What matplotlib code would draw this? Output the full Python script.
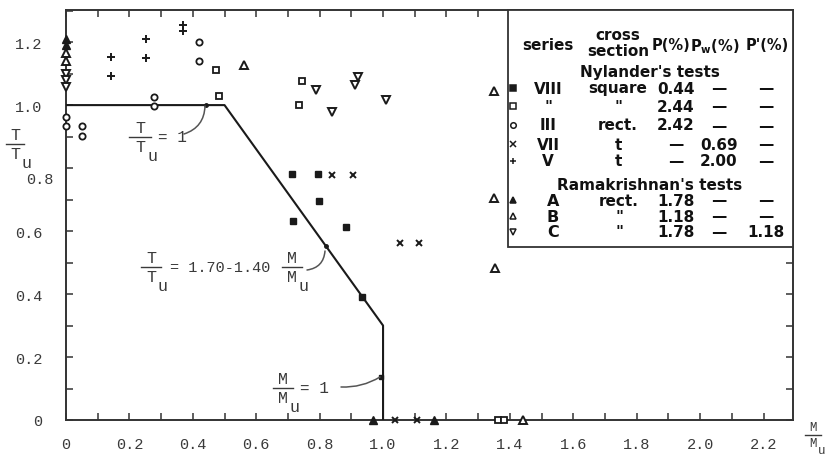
import matplotlib
matplotlib.use("Agg")
import matplotlib.pyplot as plt
from matplotlib.lines import Line2D
from matplotlib.patches import Rectangle, FancyArrowPatch
from matplotlib.ticker import FixedLocator, MultipleLocator
from matplotlib.transforms import ScaledTranslation

plt.rcParams['mathtext.fontset'] = 'custom'
plt.rcParams['mathtext.rm'] = 'Liberation Mono'
plt.rcParams['mathtext.it'] = 'Liberation Mono'
plt.rcParams['mathtext.bf'] = 'DejaVu Sans:bold'

# ---------------- data ----------------
# Nylander series VIII, square, P=0.44 (filled squares)
viii_x = [0.713, 0.795, 0.798, 0.716, 0.883, 0.934]
viii_y = [0.781, 0.781, 0.695, 0.632, 0.613, 0.390]
# Nylander square, P=2.44 (open squares)
sq244_x = [0.473, 0.483, 0.745, 0.735, 1.363, 1.380]
sq244_y = [1.111, 1.029, 1.076, 1.000, 0.0, 0.0]
# Nylander series III, rect. (open circles)
iii_x = [0.420, 0.420, 0.278, 0.278, 0.0, 0.0, 0.05, 0.05]
iii_y = [1.200, 1.140, 1.025, 0.997, 0.962, 0.933, 0.933, 0.903]
# Nylander series VII, t (crosses)
vii_x = [0.839, 0.905, 1.054, 1.114, 1.038, 1.107]
vii_y = [0.778, 0.778, 0.562, 0.562, 0.0, 0.0]
# Nylander series V, t (plus)
v_x = [0.142, 0.142, 0.252, 0.252, 0.370, 0.370]
v_y = [1.152, 1.092, 1.210, 1.149, 1.255, 1.235]
# Ramakrishnan A (filled triangles)
a_x = [0.0, 0.0, 0.968, 1.161]
a_y = [1.210, 1.190, 0.0, 0.0]
# Ramakrishnan B (open triangles)
b_x = [0.0, 0.0, 0.562, 1.350, 1.350, 1.353, 1.442]
b_y = [1.165, 1.140, 1.127, 1.045, 0.705, 0.483, 0.0]
# Ramakrishnan C (open down triangles)
c_x = [0.0, 0.0, 0.0, 0.790, 0.840, 0.920, 0.910, 1.010]
c_y = [1.100, 1.080, 1.057, 1.048, 0.978, 1.089, 1.063, 1.016]

# interaction curve
curve_M = [0.0, 0.5, 1.0, 1.0]
curve_T = [1.0, 1.0, 0.30, 0.0]

x_ticks = [0, 0.2, 0.4, 0.6, 0.8, 1.0, 1.2, 1.4, 1.6, 1.8, 2.0, 2.2]
x_labels = ["0", "0.2", "0.4", "0.6", "0.8", "1.0", "1.2", "1.4", "1.6", "1.8", "2.0", "2.2"]
y_ticks = [0, 0.2, 0.4, 0.6, 0.8, 1.0, 1.2]
y_labels = ["0", "0.2", "0.4", "0.6", "0.8", "1.0", "1.2"]

# legend table rows: series, cross section, P, Pw, P'
nyl_rows = [
    ("VIII", "square", "0.44", "—", "—"),
    ('"', '"', "2.44", "—", "—"),
    ("III", "rect.", "2.42", "—", "—"),
    ("VII", "t", "—", "0.69", "—"),
    ("V", "t", "—", "2.00", "—"),
]
ram_rows = [
    ("A", "rect.", "1.78", "—", "—"),
    ("B", '"', "1.18", "—", "—"),
    ("C", '"', "1.78", "—", "1.18"),
]

# ---------------- figure ----------------
W, H = 830, 460
fig = plt.figure(figsize=(W / 100, H / 100), dpi=100)
L, R, B, T = 66, 793, 421, 11
ax = fig.add_axes([L / W, 1 - B / H, (R - L) / W, (B - T) / H])
ax.set_xlim(0, 2.293)
ax.set_ylim(0, 1.302)

ink = '#1a1a1a'
tcol = '#3a3a3a'
acol = '#555555'

ax.plot(curve_M, curve_T, color=ink, lw=1.5, zorder=3)

mk = dict(linestyle='none', color=ink, clip_on=False, zorder=4)
ax.plot(viii_x, viii_y, marker='s', ms=5, mfc=ink, mec=ink, **mk)
ax.plot(sq244_x, sq244_y, marker='s', ms=4.5, mfc='white', mec=ink, mew=1.3, **mk)
ax.plot(iii_x, iii_y, marker='o', ms=4.5, mfc='white', mec=ink, mew=1.3, **mk)
ax.plot(vii_x, vii_y, marker='x', ms=5, mew=1.4, **mk)
ax.plot(v_x, v_y, marker='+', ms=6, mew=1.4, **mk)
ax.plot(a_x, a_y, marker='^', ms=5.5, mfc=ink, mec=ink, **mk)
ax.plot(b_x, b_y, marker='^', ms=5.5, mfc='white', mec=ink, mew=1.4, **mk)
ax.plot(c_x, c_y, marker='v', ms=5.5, mfc='white', mec=ink, mew=1.4, **mk)

# axes styling
for s in ax.spines.values():
    s.set_linewidth(1.4)
    s.set_color('#333333')
ax.xaxis.set_major_locator(FixedLocator(x_ticks))
ax.set_xticklabels(x_labels)
ax.xaxis.set_minor_locator(MultipleLocator(0.1))
ax.yaxis.set_major_locator(FixedLocator(y_ticks))
ax.set_yticklabels(y_labels)
ax.yaxis.set_minor_locator(MultipleLocator(0.1))
ax.tick_params(which='both', direction='in', top=True, right=True,
               length=5, width=1.1, color='#333333')
ax.tick_params(axis='x', which='major', pad=12, labelsize=11, labelcolor=tcol)
ax.tick_params(axis='y', which='major', pad=17, labelsize=11, labelcolor=tcol)
for lab in ax.get_xticklabels() + ax.get_yticklabels():
    lab.set_family('Liberation Mono')
    lab.set_fontsize(11)
# the 0.8 label sits shifted right/down next to the axis title in the original
ylabs = ax.get_yticklabels()
ylabs[4].set_transform(ylabs[4].get_transform() +
                       ScaledTranslation(11 / 100, -9 / 100, fig.dpi_scale_trans))


# ---------------- helpers in figure pixel coordinates ----------------
def fx(x):
    return x / W


def fy(y):
    return 1 - y / H


mono = dict(family='Liberation Mono', color=tcol)


def frac(cx, cy, num, den, sub, fs=12, half=10, gap=2, subdx=1, subdy=9):
    """Stacked fraction num / den_sub centred at pixel (cx, cy)."""
    fig.text(fx(cx), fy(cy - gap), num, fontsize=fs, ha='center', va='bottom', **mono)
    fig.text(fx(cx), fy(cy + gap), den, fontsize=fs, ha='center', va='top', **mono)
    fig.text(fx(cx + half * 0.55 + subdx), fy(cy + gap + subdy), sub, fontsize=fs,
             ha='left', va='top', **mono)
    fig.add_artist(Line2D([fx(cx - half), fx(cx + half)], [fy(cy), fy(cy)],
                          color=tcol, lw=1.0, transform=fig.transFigure))


def curve(x0, y0, x1, y1, rad):
    fig.add_artist(FancyArrowPatch(
        (fx(x0), fy(y0)), (fx(x1), fy(y1)), transform=fig.transFigure,
        arrowstyle='-', connectionstyle=f'arc3,rad={rad}', color=acol, lw=1.1,
        shrinkA=0, shrinkB=0))


# axis labels
frac(15, 145, 'T', 'T', 'u', fs=12, half=9, subdx=2, subdy=9)
frac(813, 436, 'M', 'M', 'u', fs=9, half=8, subdx=0, subdy=7)

# annotation: T/Tu = 1
frac(140, 138, 'T', 'T', 'u', fs=12, half=11, subdy=9)
fig.text(fx(158), fy(138), '= 1', fontsize=11.5, ha='left', va='center', **mono)
curve(184, 135, 205, 107, 0.35)
ax.plot([0.44], [1.0], marker='o', ms=2.5, color=ink, zorder=5)

# annotation: T/Tu = 1.70 - 1.40 M/Mu
frac(151, 268, 'T', 'T', 'u', fs=12, half=10, subdy=9)
fig.text(fx(170), fy(268), '= 1.70-1.40', fontsize=11, ha='left', va='center', **mono)
frac(292, 268, 'M', 'M', 'u', fs=12, half=10, subdy=9)
curve(307, 271, 325, 252, 0.4)
ax.plot([0.82], [0.552], marker='o', ms=2.5, color=ink, zorder=5)

# annotation: M/Mu = 1
frac(283, 389, 'M', 'M', 'u', fs=12, half=10, subdy=9)
fig.text(fx(300), fy(389), '= 1', fontsize=11.5, ha='left', va='center', **mono)
curve(341, 388, 380, 378, 0.15)
ax.plot([0.993], [0.137], marker='s', ms=3, color=ink, zorder=5)

# ---------------- legend table ----------------
fig.patches.append(Rectangle((fx(508), fy(248)), fx(793) - fx(508), fy(11) - fy(248),
                             transform=fig.transFigure, facecolor='white',
                             edgecolor='#333333', lw=1.3, zorder=6))

lf = dict(family='DejaVu Sans', fontweight='bold', fontsize=11, color='#111111',
          ha='center', va='center', zorder=7)
hf = dict(lf)
hf['fontsize'] = 10.5
fig.text(fx(548), fy(45), 'series', **lf)
fig.text(fx(618), fy(35), 'cross', **lf)
fig.text(fx(618), fy(52), 'section', **lf)
fig.text(fx(671), fy(45), 'P(%)', **hf)
fig.text(fx(715), fy(47), r'P$_\mathbf{w}$(%)', **hf)
fig.text(fx(767), fy(45), "P'(%)", **hf)
fig.text(fx(650), fy(72), "Nylander's tests", **lf)
fig.text(fx(650), fy(185), "Ramakrishnan's tests", **lf)

col_x = [548, 618, 676, 719, 766]
nyl_y = [89, 107, 126, 145, 162]
ram_y = [201, 217, 233]
nyl_markers = [('s', ink), ('s', 'white'), ('o', 'white'), ('x', ink), ('+', ink)]
ram_markers = [('^', ink), ('^', 'white'), ('v', 'white')]

for row, yy, (m, fc) in zip(nyl_rows, nyl_y, nyl_markers):
    fig.add_artist(Line2D([fx(513)], [fy(yy)], marker=m, ms=4, mfc=fc, mec=ink,
                          color=ink, mew=1.1, linestyle='none',
                          transform=fig.transFigure, zorder=7))
    for txt, xx in zip(row, col_x):
        fig.text(fx(xx), fy(yy), txt, **lf)

ram_col_x = [553, 619, 676, 719, 766]
for row, yy, (m, fc) in zip(ram_rows, ram_y, ram_markers):
    fig.add_artist(Line2D([fx(513)], [fy(yy)], marker=m, ms=4.5, mfc=fc, mec=ink,
                          color=ink, mew=1.1, linestyle='none',
                          transform=fig.transFigure, zorder=7))
    for i, (txt, xx) in enumerate(zip(row, ram_col_x)):
        d = dict(lf)
        if i == 0:
            d['fontsize'] = 11.5
        fig.text(fx(xx), fy(yy), txt, **d)

fig.savefig('out.png', dpi=100)
